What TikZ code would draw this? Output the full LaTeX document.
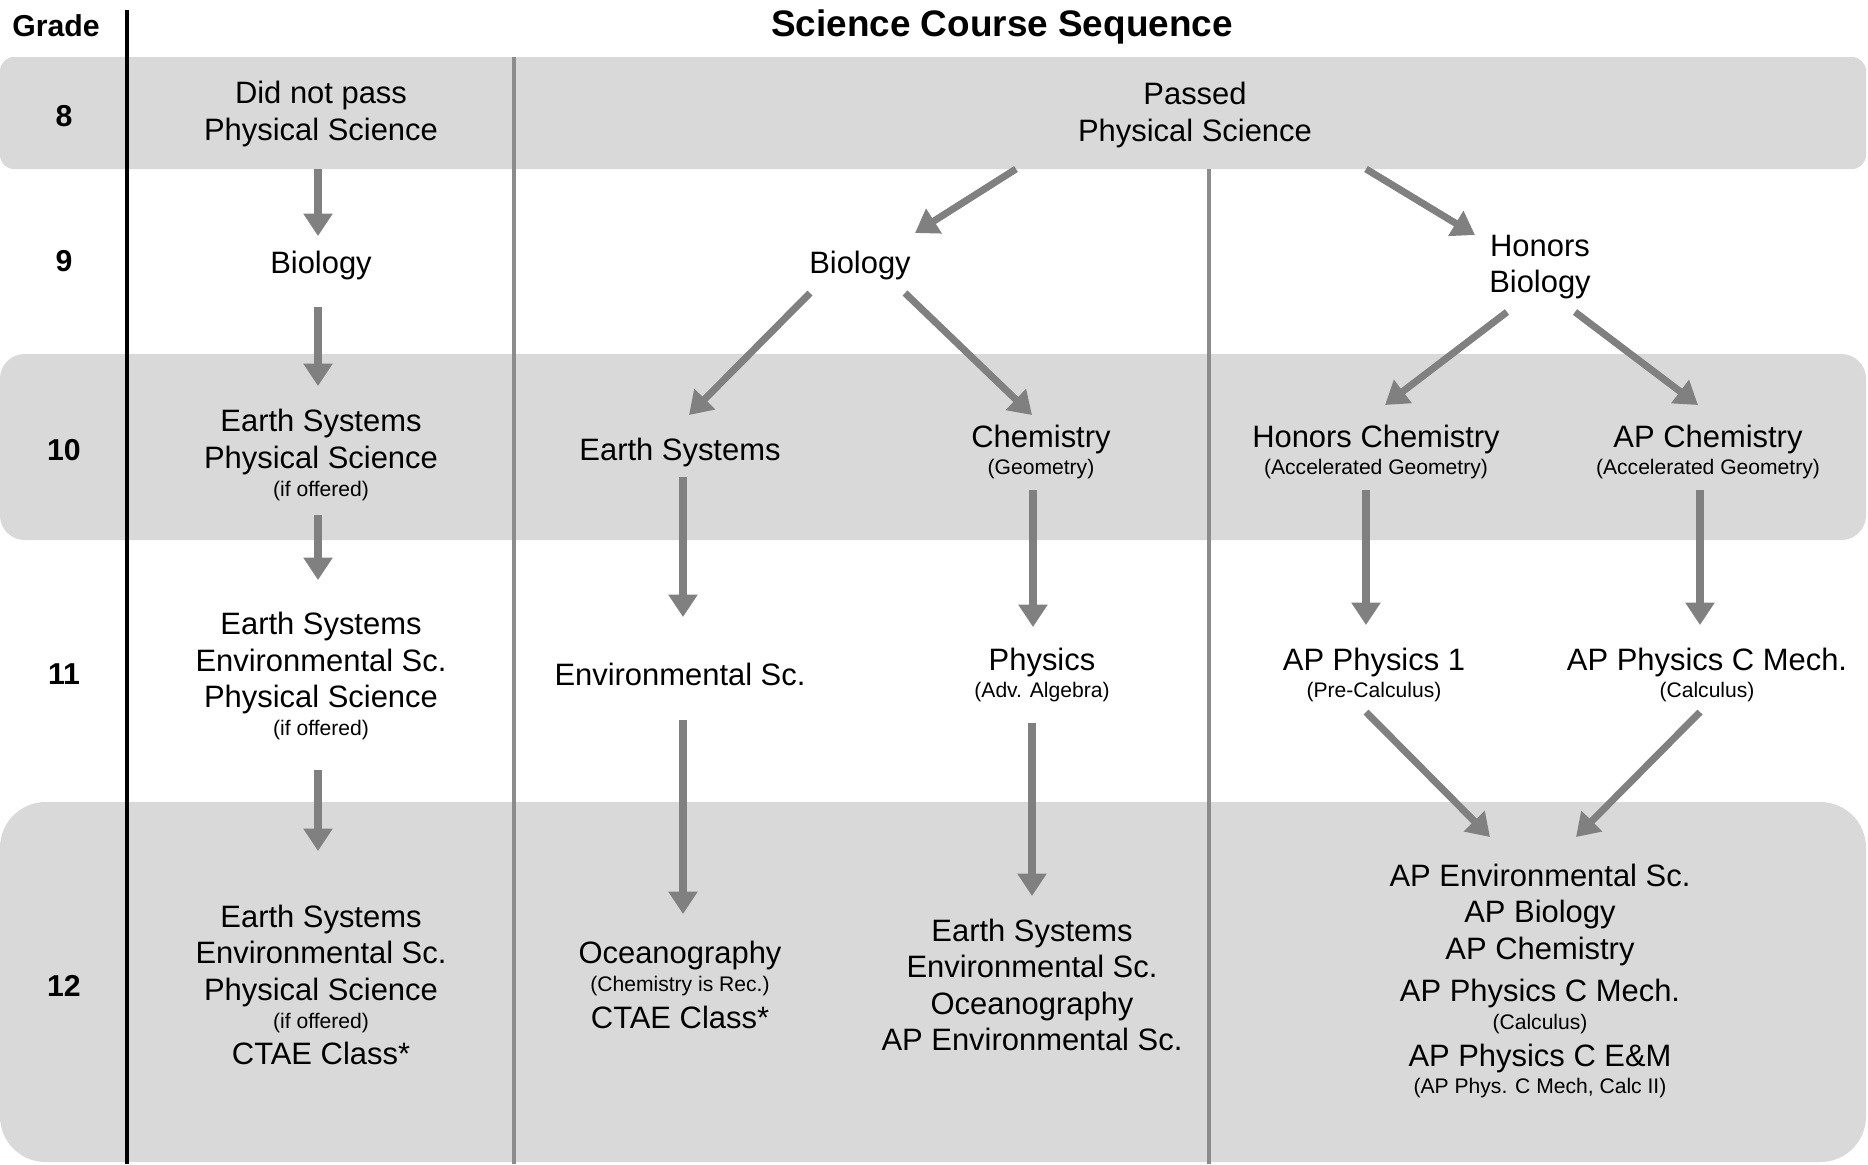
\documentclass[tikz,border=0pt]{standalone}
\usepackage{fontspec}
\setmainfont{Liberation Sans}
\usetikzlibrary{arrows.meta, calc}

\definecolor{bandgray}{RGB}{217,217,217}
\definecolor{arrowgray}{RGB}{128,128,128}
\definecolor{rulegray}{RGB}{140,140,140}

\newcommand{\smallnote}[1]{{\fontsize{6}{7}\selectfont #1}}

\begin{document}
\begin{tikzpicture}[x=0.1mm, y=-0.1mm,
        course/.style={align=center, inner sep=0pt, font=\fontsize{8.8}{10.4}\selectfont},
        grade/.style={font=\bfseries\fontsize{8.6}{10}\selectfont},
        arr/.style={color=arrowgray, line width=2pt, -{Triangle[length=6.4pt,width=8pt]}}]
        \useasboundingbox (0,0) rectangle (1868,1164);

        % grade bands
        \fill[bandgray, rounded corners=4pt]  (0,57)  rectangle (1866,169);
        \fill[bandgray, rounded corners=7pt]  (0,354) rectangle (1866,540);
        \fill[bandgray, rounded corners=13pt] (0,802) rectangle (1866,1162);

        % column rules
        \draw[line width=1.1pt] (127,10) -- (127,1164);
        \draw[rulegray, line width=0.9pt] (514,57) -- (514,1164);
        \draw[rulegray, line width=0.9pt] (1209,169) -- (1209,1164);

        \node[grade] (gr) at (56,26) {Grade};
        \node[font=\bfseries\fontsize{10.5}{12}\selectfont] (title) at (1002,27) {Science Course Sequence};

        \node[grade] (g8)  at (64,116) {8};
        \node[grade] (g9)  at (64,261) {9};
        \node[grade] (g10) at (64,450) {10};
        \node[grade] (g11) at (64,674) {11};
        \node[grade] (g12) at (64,986) {12};

        % did not pass
        \node[course] (d8)   at (321,114) {Did not pass\\Physical Science};
        \node[course] (b9)   at (321,265) {Biology};
        \node[course] (es10) at (321,455) {Earth Systems\\Physical Science\\[-2.5pt]\smallnote{(if offered)}};
        \node[course] (es11) at (321,676) {Earth Systems\\Environmental Sc.\\Physical Science\\[-2.5pt]\smallnote{(if offered)}};
        \node[course] (es12) at (321,985) {Earth Systems\\Environmental Sc.\\Physical Science\\[-2.5pt]\smallnote{(if offered)}\\CTAE Class*};

        % passed
        \node[course] (passed) at (1195,115) {Passed\\Physical Science};
        \node[course] (bio)    at (860,265)  {Biology};
        \node[course] (hbio)   at (1540,267) {Honors\\Biology};
        \node[course] (earth)  at (680,452)  {Earth Systems};
        \node[course] (chem)   at (1041,452) {Chemistry\\[-2.5pt]\smallnote{(Geometry)}};
        \node[course] (hchem)  at (1376,452) {Honors Chemistry\\[-2.5pt]\smallnote{(Accelerated Geometry)}};
        \node[course] (apchem) at (1708,452) {AP Chemistry\\[-2.5pt]\smallnote{(Accelerated Geometry)}};
        \node[course] (env)    at (680,674)  {Environmental Sc.};
        \node[course] (phys)   at (1042,675) {Physics\\[-2.5pt]\smallnote{(Adv. Algebra)}};
        \node[course] (ap1)    at (1374,675) {AP Physics 1\\[-2.5pt]\smallnote{(Pre-Calculus)}};
        \node[course] (apc)    at (1707,675) {AP Physics C Mech.\\[-2.5pt]\smallnote{(Calculus)}};
        \node[course] (ocean)  at (680,985)  {Oceanography\\[-2.5pt]\smallnote{(Chemistry is Rec.)}\\CTAE Class*};
        \node[course] (mix12)  at (1032,985) {Earth Systems\\Environmental Sc.\\Oceanography\\AP Environmental Sc.};
        \node[course] (ap12)   at (1540,981) {AP Environmental Sc.\\AP Biology\\AP Chemistry\\[1.7pt]AP Physics C Mech.\\[-2.5pt]\smallnote{(Calculus)}\\AP Physics C E\&M\\[-2.5pt]\smallnote{(AP Phys. C Mech, Calc II)}};

        \path[arr] ($(d8)+(-3,55)$) edge ($(b9)+(-3,-29)$)
        ($(b9)+(-3,42)$) edge ($(es10)+(-3,-69)$)
        ($(es10)+(-3,60)$) edge ($(es11)+(-3,-96)$)
        ($(es11)+(-3,94)$) edge ($(es12)+(-3,-134)$)
        ($(passed)+(-179,54)$) edge ($(bio)+(55,-32)$)
        ($(passed)+(171,54)$) edge ($(hbio)+(-65,-32)$)
        ($(bio)+(-50,28)$) edge ($(earth)+(9,-37)$)
        ($(bio)+(45,28)$) edge ($(chem)+(-9,-37)$)
        ($(hbio)+(-33,45)$) edge ($(hchem)+(9,-47)$)
        ($(hbio)+(35,45)$) edge ($(apchem)+(-10,-47)$)
        ($(earth)+(3,25)$) edge ($(env)+(3,-57)$)
        ($(chem)+(-8,38)$) edge ($(phys)+(-9,-48)$)
        ($(hchem)+(-10,38)$) edge ($(ap1)+(-8,-50)$)
        ($(apchem)+(-8,38)$) edge ($(apc)+(-7,-50)$)
        ($(env)+(3,46)$) edge ($(ocean)+(3,-71)$)
        ($(phys)+(-10,48)$) edge ($(mix12)+(0,-89)$)
        ($(ap1)+(-8,37)$) edge ($(ap12)+(-50,-144)$)
        ($(apc)+(-7,37)$) edge ($(ap12)+(36,-144)$)
        ;
\end{tikzpicture}
\end{document}
